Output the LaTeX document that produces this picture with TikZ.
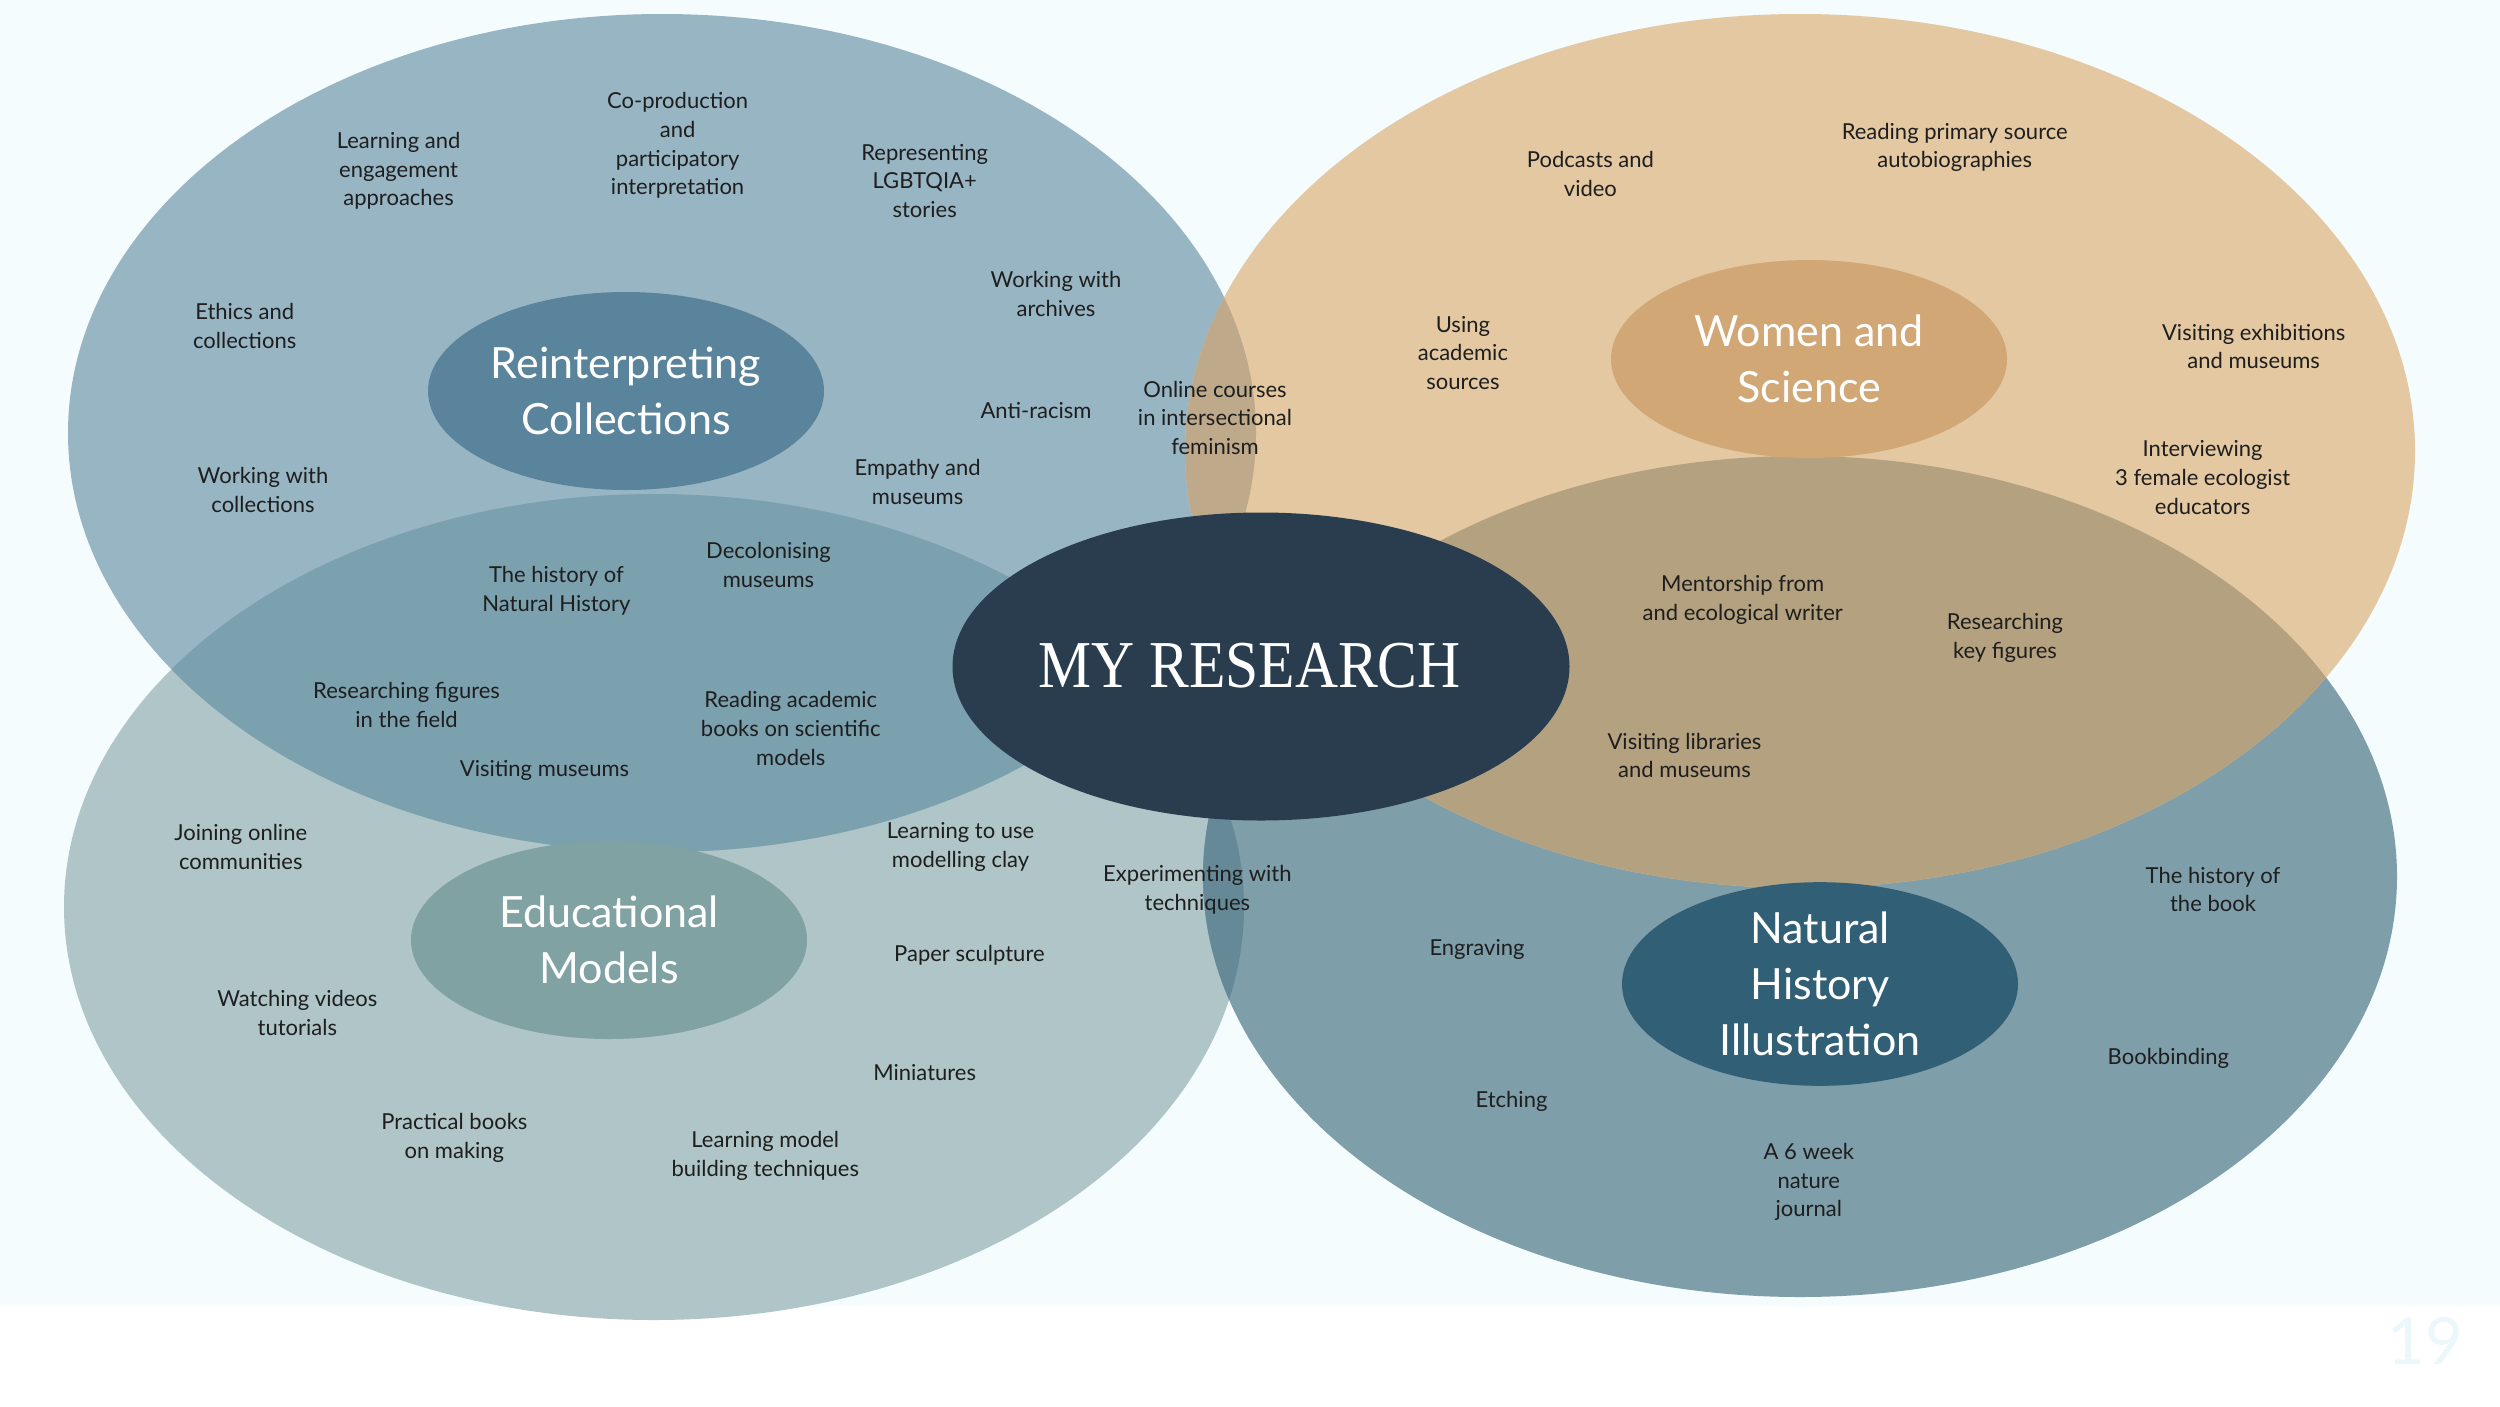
\documentclass[tikz,border=0pt]{standalone}
\usepackage{fontspec}
\setmainfont{Lato}
\newfontfamily\coreserif{Liberation Serif}
\usetikzlibrary{shapes.geometric}
\definecolor{bgc}{HTML}{F4FCFE}
\definecolor{rcbig}{HTML}{98B5C3}
\definecolor{rcin}{HTML}{5A849B}
\definecolor{wsbig}{HTML}{E3C8A2}
\definecolor{wsin}{HTML}{D1A776}
\definecolor{embig}{HTML}{AFC5C7}
\definecolor{emin}{HTML}{80A2A2}
\definecolor{nhbig}{HTML}{7E9EAA}
\definecolor{nhin}{HTML}{315F76}
\definecolor{rcem}{HTML}{7BA0AE}
\definecolor{rcws}{HTML}{BEAA8A}
\definecolor{wsnh}{HTML}{B4A17F}
\definecolor{emnh}{HTML}{658997}
\definecolor{corec}{HTML}{293D4F}
\definecolor{labc}{HTML}{1E1E1E}
\definecolor{pagec}{HTML}{EAF7FB}
\newcommand\ellRC{(662,433) ellipse [x radius=594, y radius=419]}
\newcommand\ellWS{(1800,451) ellipse [x radius=615, y radius=437]}
\newcommand\ellEM{(654,907) ellipse [x radius=590, y radius=413]}
\newcommand\ellNH{(1800,876.5) ellipse [x radius=597, y radius=420.5]}
\begin{document}
\begin{tikzpicture}[x=1pt,y=-1pt,
  lbl/.style={align=center, text=labc, font=\fontsize{22}{28.7}\selectfont, inner sep=0pt},
  ttl/.style={ellipse, inner sep=0pt, minimum width=396pt, minimum height=198pt, align=center, text=white, font=\fontsize{43}{56}\selectfont}]
\useasboundingbox (0,0) rectangle (2500,1406);
\fill[white] (0,0) rectangle (2500,1406);
\fill[bgc] (0,0) rectangle (2500,1306);
% big ellipses
\fill[embig] \ellEM;
\fill[nhbig] \ellNH;
\fill[rcbig] \ellRC;
\fill[wsbig] \ellWS;
% overlaps
\begin{scope}\clip \ellRC; \fill[rcem] \ellEM; \end{scope}
\begin{scope}\clip \ellRC; \fill[rcws] \ellWS; \end{scope}
\begin{scope}\clip \ellWS; \fill[wsnh] \ellNH; \end{scope}
\begin{scope}\clip \ellEM; \fill[emnh] \ellNH; \end{scope}
% inner title ellipses
\node[ttl, fill=rcin] (rc) at (626,391) {Reinterpreting\\Collections};
\node[ttl, fill=wsin] (ws) at (1809,359) {Women and\\Science};
\node[ttl, fill=emin] (em) at (609,940) {Educational\\Models};
\node[ttl, fill=nhin] (nh) at (1820,984) {Natural\\History\\Illustration};
% core
\node[ellipse, fill=corec, inner sep=0pt, minimum width=617pt, minimum height=308pt] (core) at (1261,666.5) {};
\node[text=white, inner sep=0pt, font=\coreserif\fontsize{67}{67}\selectfont] (coretext) at (1249.5,665.3) {\scalebox{0.89}[1]{MY RESEARCH}};
% Reinterpreting labels
\node[lbl] (l1) at (398.6,171) {Learning and\\engagement\\approaches};
\node[lbl] (l2) at (677.6,145.5) {Co-production\\and\\participatory\\interpretation};
\node[lbl] (l3) at (924.7,181) {Representing\\LGBTQIA+\\stories};
\node[lbl] (l4) at (1056,294) {Working with\\archives};
\node[lbl] (l5) at (244.7,326) {Ethics and\\collections};
\node[lbl] (l6) at (1036,411) {Anti-racism};
\node[lbl] (l7) at (1215,417.7) {Online courses\\in intersectional\\feminism};
\node[lbl] (l8) at (263,490) {Working with\\collections};
\node[lbl] (l9) at (917.6,482) {Empathy and\\museums};
\node[lbl] (l10) at (556.4,591) {The history of\\Natural History};
\node[lbl] (l11) at (768.5,565) {Decolonising\\museums};
\node[lbl] (l12) at (406.6,705) {Researching figures\\in the field};
\node[lbl] (l13) at (790.8,728.6) {Reading academic\\books on scientific\\models};
\node[lbl] (l14) at (544.5,770) {Visiting museums};
% Educational labels
\node[lbl] (e1) at (240.8,847) {Joining online\\communities};
\node[lbl] (e2) at (960.6,847) {Learning to use\\modelling clay};
\node[lbl] (e3) at (1197.4,890) {Experimenting with\\techniques};
\node[lbl] (e4) at (297.4,1013) {Watching videos\\tutorials};
\node[lbl] (e5) at (969.4,955.3) {Paper sculpture};
\node[lbl] (e6) at (924.7,1072.8) {Miniatures};
\node[lbl] (e7) at (454.4,1137.6) {Practical books\\on making};
\node[lbl] (e8) at (765.3,1156) {Learning model\\building techniques};
% Women labels
\node[lbl] (w1) at (1590.4,174) {Podcasts and\\video};
\node[lbl] (w2) at (1954.7,147.3) {Reading primary source\\autobiographies};
\node[lbl] (w3) at (1462.9,353) {Using\\academic\\sources};
\node[lbl] (w4) at (2253.7,346.4) {Visiting exhibitions\\and museums};
\node[lbl] (w5) at (2202.6,477.7) {Interviewing\\3 female ecologist\\educators};
\node[lbl] (w6) at (1742.7,600) {Mentorship from\\and ecological writer};
\node[lbl] (w7) at (2005,638) {Researching\\key figures};
% Natural history labels
\node[lbl] (n1) at (1684.5,755.4) {Visiting libraries\\and museums};
\node[lbl] (n2) at (2213,889.4) {The history of\\the book};
\node[lbl] (n3) at (1477,949) {Engraving};
\node[lbl] (n4) at (2168.4,1058.8) {Bookbinding};
\node[lbl] (n5) at (1511.5,1101.6) {Etching};
\node[lbl] (n6) at (1808.8,1182) {A 6 week\\nature\\journal};
% page number
\node[text=pagec, inner sep=0pt, font=\fontsize{65}{65}\selectfont] (page) at (2425,1341) {19};
\end{tikzpicture}
\end{document}
